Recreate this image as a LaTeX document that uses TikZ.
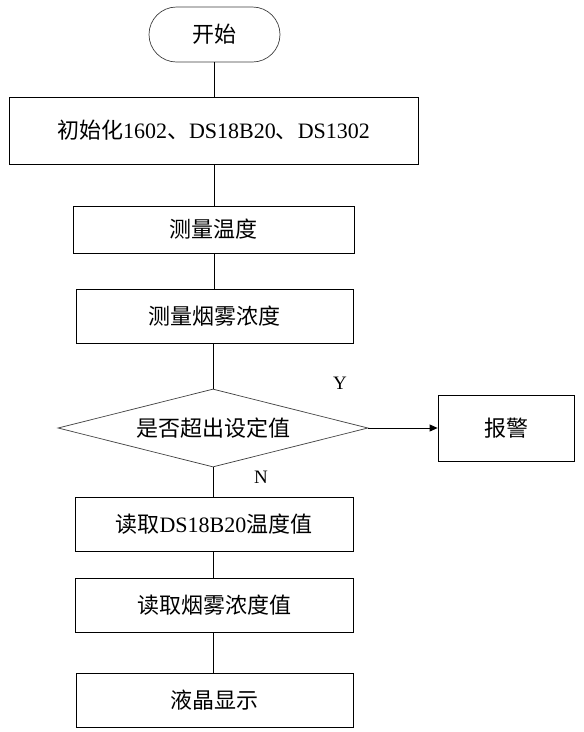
\documentclass[tikz,border=0pt]{standalone}
\usepackage{fontspec}
\setmainfont{Liberation Serif}
\newfontfamily\cjk{Noto Sans CJK SC}
\newcommand\zh[1]{{\cjk #1}}
\usetikzlibrary{shapes.misc,shapes.geometric,arrows.meta}
\begin{document}
\begin{tikzpicture}[x=1pt,y=-1pt,
  every node/.style={font=\fontsize{22pt}{25pt}\selectfont},
  procbox/.style={draw=black,line width=0.8pt,rectangle,inner sep=2pt},
  termbox/.style={draw=black!75,line width=0.7pt,rounded rectangle,inner sep=2pt,minimum width=135pt,minimum height=55pt},
  decbox/.style={draw=black!75,line width=0.7pt,diamond,aspect=3.97,inner sep=1pt,minimum width=310pt,minimum height=78pt},
  conn/.style={draw=black,line width=0.8pt},
  lbl/.style={font=\fontsize{19pt}{22pt}\selectfont}]
\useasboundingbox (0,0) rectangle (584,732);
\fill[white] (0,0) rectangle (584,732);
\node[termbox] (start) at (214.5,34.5) {\zh{开始}};
\node[procbox,minimum width=409pt,minimum height=67pt] (init) at (213.5,130.5) {\zh{初始化}1602\zh{、}DS18B20\zh{、}DS1302};
\node[procbox,minimum width=281pt,minimum height=47pt] (temp) at (213.5,229.5) {\zh{测量温度}};
\node[procbox,minimum width=277pt,minimum height=54pt] (smoke) at (214.5,316) {\zh{测量烟雾浓度}};
\node[decbox] (dec) at (213,428) {\zh{是否超出设定值}};
\node[procbox,minimum width=136pt,minimum height=66pt] (alarm) at (506,428) {\zh{报警}};
\node[procbox,minimum width=278pt,minimum height=54pt] (read1) at (214,524) {\zh{读取}DS18B20\zh{温度值}};
\node[procbox,minimum width=278pt,minimum height=54pt] (read2) at (214,605) {\zh{读取烟雾浓度值}};
\node[procbox,minimum width=277pt,minimum height=54pt] (lcd) at (214.5,700) {\zh{液晶显示}};
\node[lbl] (ylab) at (340,383) {Y};
\node[lbl] (nlab) at (261,477) {N};
\draw[conn] (start.south) -- (init.north -| start.south);
\draw[conn] (init.south -| start.south) -- (temp.north -| start.south);
\draw[conn] (temp.south -| start.south) -- (smoke.north -| start.south);
\draw[conn] (smoke.south -| dec.north) -- (dec.north);
\draw[conn] (dec.south) -- (read1.north -| dec.south);
\draw[conn] (read1.south -| dec.south) -- (read2.north -| dec.south);
\draw[conn] (read2.south -| dec.south) -- (lcd.north -| dec.south);
\draw[conn,-{Triangle[length=8pt,width=7pt]}] (dec.east) -- (alarm.west);
\end{tikzpicture}
\end{document}
